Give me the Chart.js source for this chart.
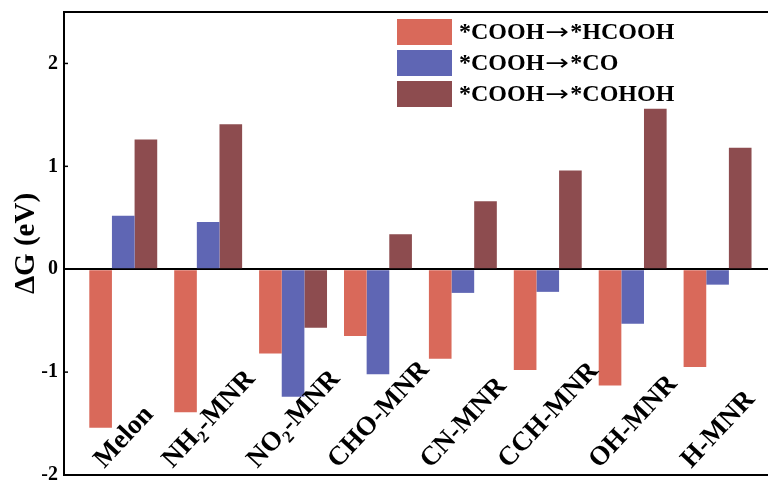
<!DOCTYPE html>
<html>
<head>
<meta charset="utf-8">
<script src="https://cdn.jsdelivr.net/npm/chart.js@4"></script>
<style>
html, body { margin: 0; padding: 0; background: #fff; overflow: hidden; }
</style>
</head>
<body>
<canvas id="dgChart" width="768" height="483"></canvas>
<script>
var categories = ['Melon', 'NH₂-MNR', 'NO₂-MNR', 'CHO-MNR', 'CN-MNR', 'CCH-MNR', 'OH-MNR', 'H-MNR'];
var seriesNames = ['*COOH→*HCOOH', '*COOH→*CO', '*COOH→*COHOH'];
var toHCOOH = [-1.54, -1.39, -0.82, -0.65, -0.87, -0.98, -1.13, -0.95];
var toCO = [0.52, 0.46, -1.24, -1.02, -0.23, -0.22, -0.53, -0.15];
var toCOHOH = [1.26, 1.41, -0.57, 0.34, 0.66, 0.96, 1.56, 1.18];
var yTicks = [-2, -1, 0, 1, 2];
var seriesColors = ['#d9695a', '#5f66b4', '#8d4c4f'];

var serif = '"Liberation Serif", "Times New Roman", serif';

function points(values) {
    return values.map(function (v, i) { return { x: i, y: v }; });
}

// draws a string, turning ₂ into a real lowered subscript
function drawLabel(ctx, text, size) {
    var parts = text.split('₂');
    var x = 0;
    for (var i = 0; i < parts.length; i++) {
        ctx.font = 'bold ' + size + 'px ' + serif;
        ctx.fillText(parts[i], x, 0);
        x += ctx.measureText(parts[i]).width;
        if (i < parts.length - 1) {
            ctx.font = 'bold ' + Math.round(size * 0.62) + 'px ' + serif;
            ctx.fillText('2', x, size * 0.22);
            x += ctx.measureText('2').width;
        }
    }
    return x;
}

function labelWidth(ctx, text, size) {
    var parts = text.split('₂');
    var w = 0;
    for (var i = 0; i < parts.length; i++) {
        ctx.font = 'bold ' + size + 'px ' + serif;
        w += ctx.measureText(parts[i]).width;
        if (i < parts.length - 1) {
            ctx.font = 'bold ' + Math.round(size * 0.62) + 'px ' + serif;
            w += ctx.measureText('2').width;
        }
    }
    return w;
}

// legend text with a long thin arrow
function drawLegendText(ctx, text, x, y) {
    var parts = text.split('→');
    for (var i = 0; i < parts.length; i++) {
        ctx.font = 'bold 24px ' + serif;
        ctx.fillText(parts[i], x, y);
        x += ctx.measureText(parts[i]).width;
        if (i < parts.length - 1) {
            ctx.save();
            ctx.font = '22px "DejaVu Sans"';
            var aw = ctx.measureText('→').width;
            ctx.translate(x + 1, y);
            ctx.scale(24 / aw, 1);
            ctx.fillText('→', 0, 0);
            ctx.restore();
            x += 26;
        }
    }
}

var framePlugin = {
    id: 'frame',
    afterDraw: function (chart) {
        var ctx = chart.ctx;
        var area = chart.chartArea;
        var ys = chart.scales.y;
        var xs = chart.scales.x;
        ctx.save();
        ctx.strokeStyle = '#000';
        ctx.lineWidth = 2;
        ctx.beginPath();
        ctx.moveTo(area.left, area.top);
        ctx.lineTo(area.right, area.top);
        ctx.moveTo(area.left, area.bottom);
        ctx.lineTo(area.right, area.bottom);
        ctx.stroke();

        // small inward ticks
        ctx.lineWidth = 1.5;
        yTicks.forEach(function (t) {
            var py = ys.getPixelForValue(t);
            ctx.beginPath();
            ctx.moveTo(area.left, py);
            ctx.lineTo(area.left + 4, py);
            ctx.stroke();
        });

        // legend inside the plot
        var bx = area.left + 333, by = area.top + 7;
        seriesNames.forEach(function (name, i) {
            var top = by + i * 31;
            ctx.fillStyle = seriesColors[i];
            ctx.fillRect(bx, top, 55, 26);
            ctx.fillStyle = '#000';
            ctx.textBaseline = 'middle';
            ctx.textAlign = 'left';
            drawLegendText(ctx, name, bx + 62, top + 14);
        });

        // rotated category labels sitting on the bottom axis
        var size = 27;
        var ang = 47 * Math.PI / 180;
        ctx.textBaseline = 'alphabetic';
        ctx.fillStyle = '#000';
        categories.forEach(function (c, i) {
            var cx = xs.getPixelForValue(i);
            var L = labelWidth(ctx, c, size);
            var sx = cx + 6 - (L / 2) * Math.cos(ang);
            var sy = area.bottom - 6;
            ctx.save();
            ctx.translate(sx, sy);
            ctx.rotate(-ang);
            drawLabel(ctx, c, size);
            ctx.restore();
        });
        ctx.restore();
    }
};

new Chart(document.getElementById('dgChart').getContext('2d'), {
    type: 'bar',
    data: {
        datasets: [{
            label: seriesNames[0],
            data: points(toHCOOH),
            backgroundColor: seriesColors[0],
            borderWidth: 0
        }, {
            label: seriesNames[1],
            data: points(toCO),
            backgroundColor: seriesColors[1],
            borderWidth: 0
        }, {
            label: seriesNames[2],
            data: points(toCOHOH),
            backgroundColor: seriesColors[2],
            borderWidth: 0
        }]
    },
    options: {
        responsive: false,
        animation: false,
        layout: { padding: { top: 12, bottom: 8, left: 0, right: 0 } },
        datasets: { bar: { categoryPercentage: 0.8, barPercentage: 1.0 } },
        plugins: { legend: { display: false }, tooltip: { enabled: false } },
        scales: {
            x: {
                type: 'linear',
                display: false,
                offset: false,
                min: -0.698,
                max: 7.594
            },
            y: {
                min: -2,
                max: 2.5,
                afterFit: function (scale) {
                    scale.width = 64;
                    scale.paddingTop = 0;
                    scale.paddingBottom = 0;
                },
                afterBuildTicks: function (scale) {
                    scale.ticks = yTicks.map(function (v) { return { value: v }; });
                },
                border: { display: true, color: '#000', width: 2 },
                grid: {
                    drawTicks: false,
                    lineWidth: 2,
                    color: function (c) { return c.tick && c.tick.value === 0 ? '#000' : 'rgba(0,0,0,0)'; }
                },
                ticks: {
                    padding: 6,
                    color: '#000',
                    font: { family: serif, size: 20, weight: 'bold' }
                },
                title: {
                    display: true,
                    text: 'ΔG (eV)',
                    color: '#000',
                    padding: { top: 9, bottom: 0 },
                    font: { family: serif, size: 29, weight: 'bold' }
                }
            }
        }
    },
    plugins: [framePlugin]
});
</script>
</body>
</html>
